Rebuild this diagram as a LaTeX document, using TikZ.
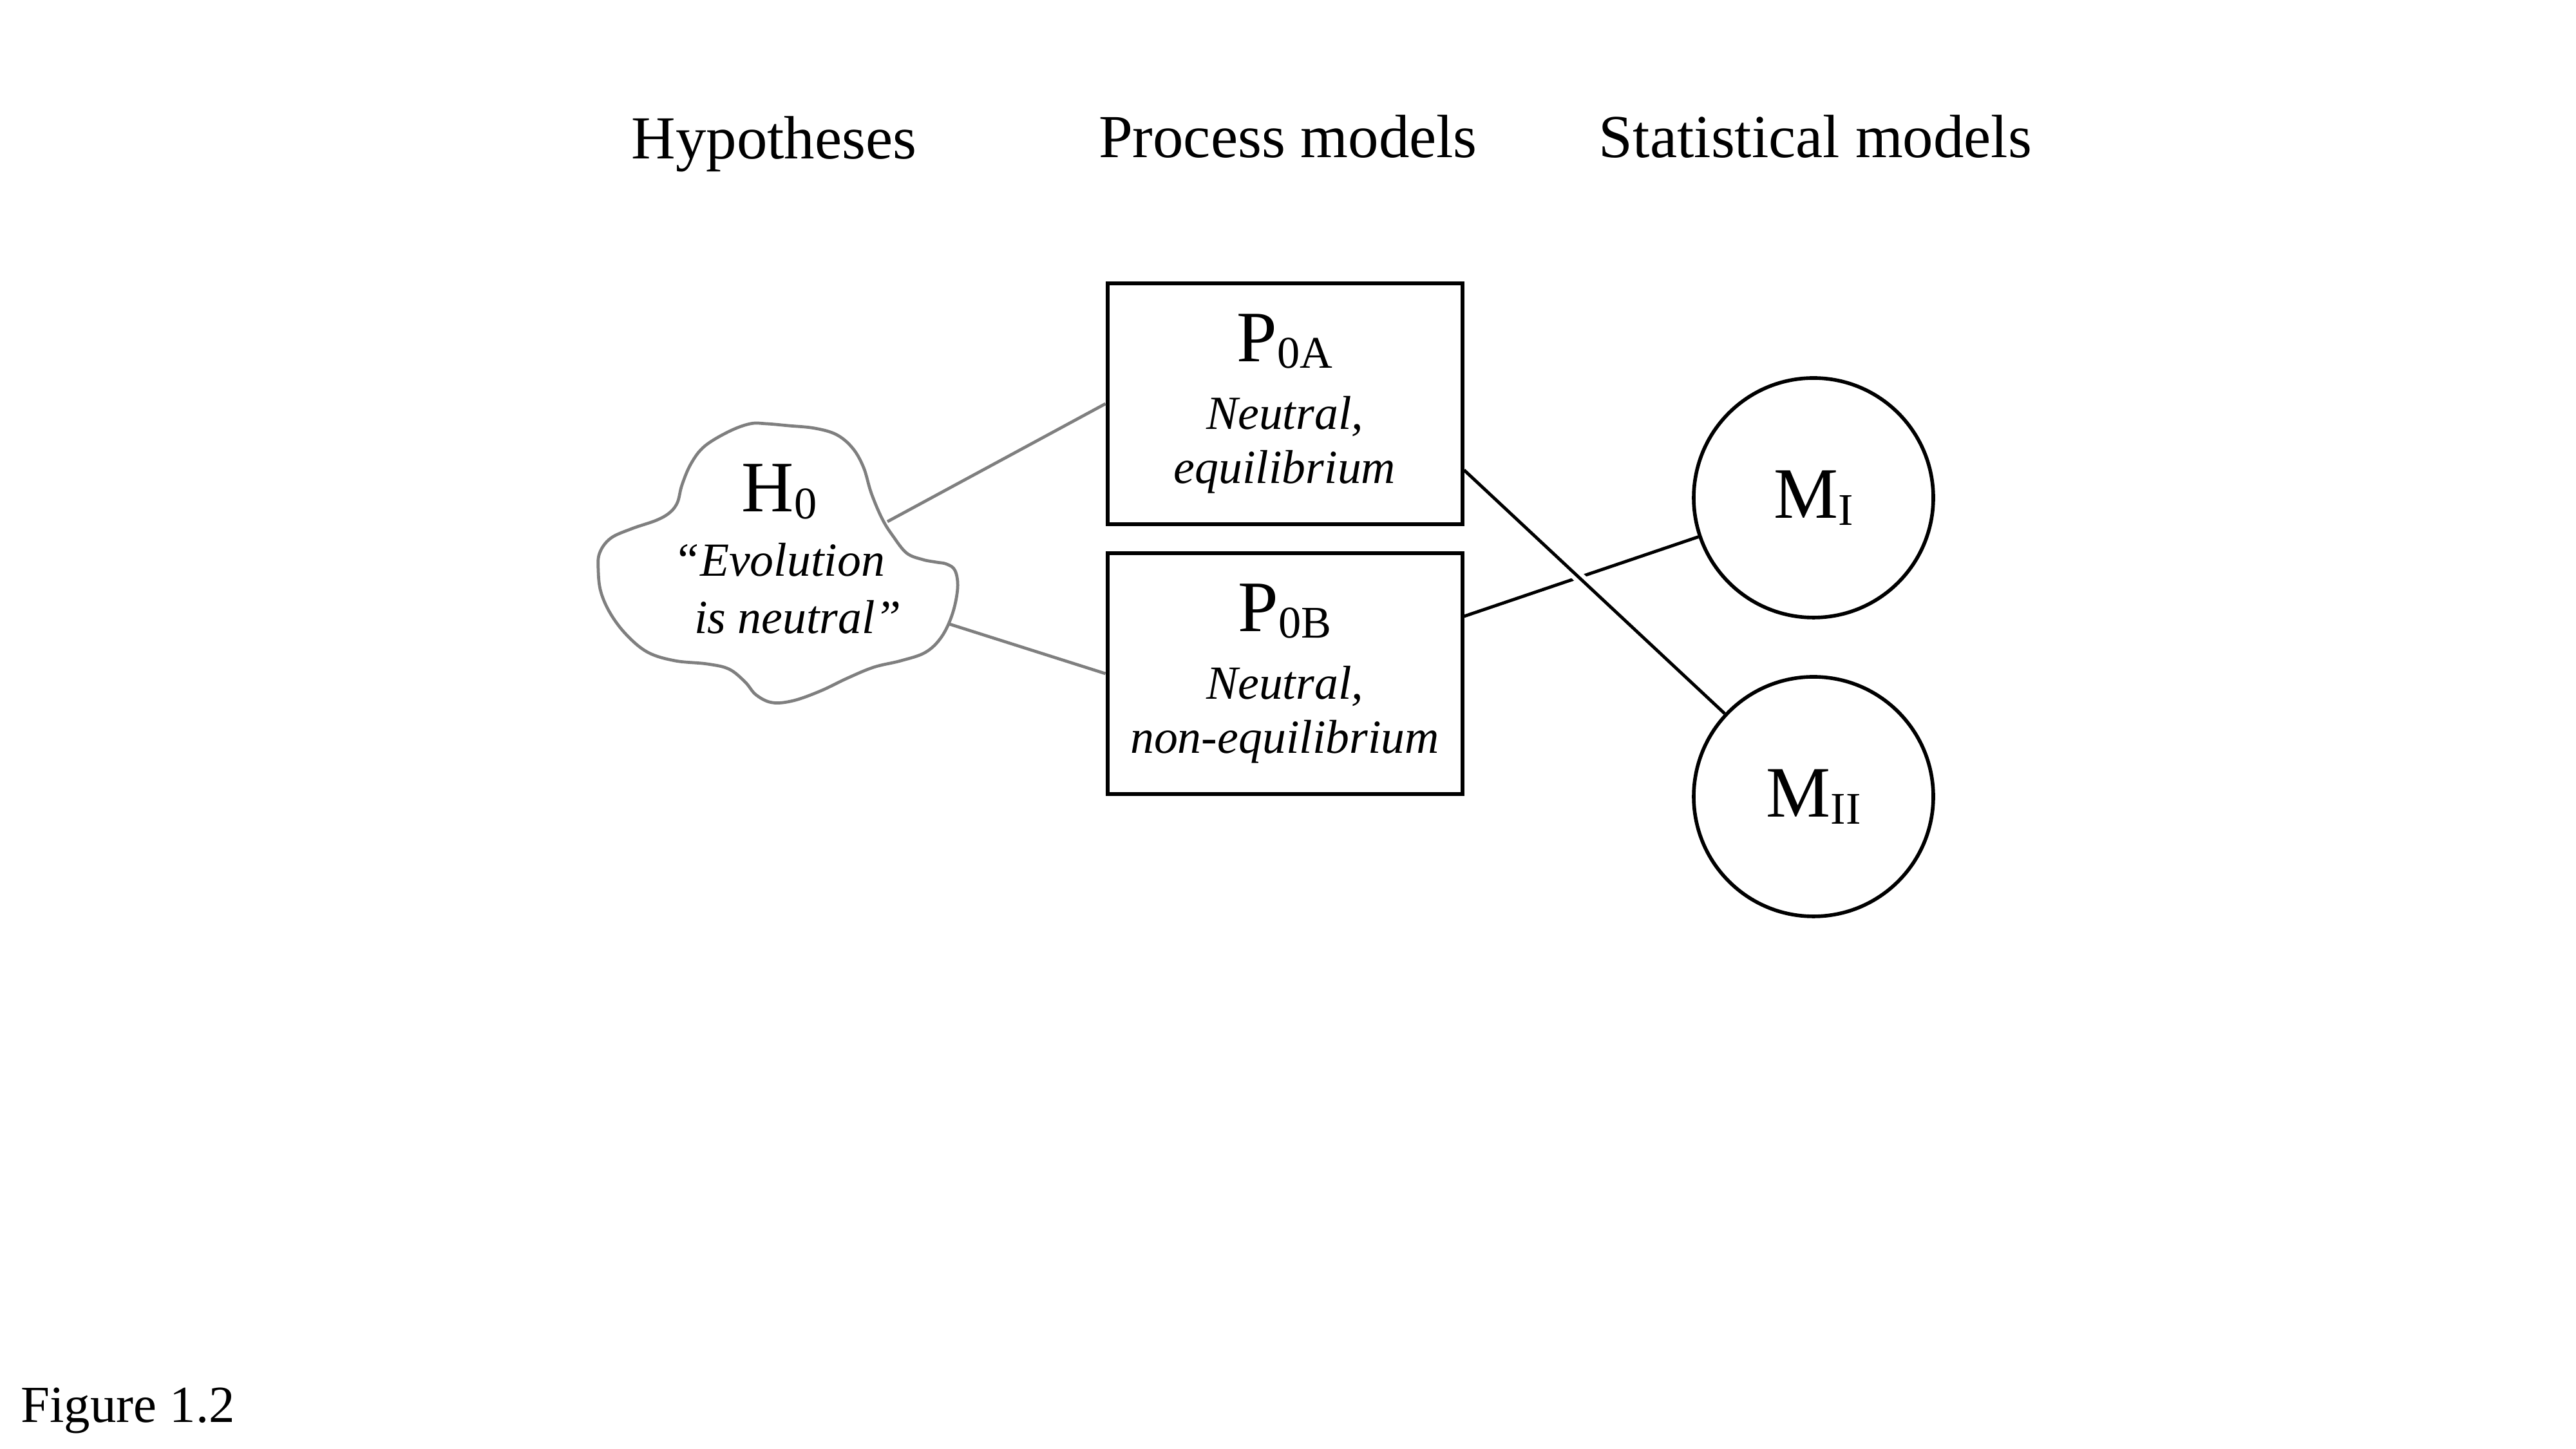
\documentclass[tikz,border=0pt]{standalone}
\usepackage{fontspec}
\setmainfont{Liberation Serif}
\usepackage{tikz}
\usetikzlibrary{positioning}

\definecolor{hypgray}{HTML}{7F7F7F}
\newcommand{\bigfont}{\fontsize{32}{36}\selectfont\upshape}
\newcommand{\modsub}[1]{\raisebox{-3pt}{\fontsize{20}{22}\selectfont #1}}

\begin{document}
\begin{tikzpicture}[
  head/.style={font=\fontsize{27}{30}\selectfont, anchor=base},
  procbox/.style={draw, line width=1.7pt, minimum width=5.51cm, minimum height=3.74cm,
    inner sep=0pt, align=center, font=\fontsize{21}{24}\selectfont\itshape},
  statcirc/.style={draw, circle, line width=1.6pt, minimum size=3.72cm, inner sep=0pt, font=\bigfont},
  hypline/.style={draw=hypgray, line width=1.35pt},
  modline/.style={draw=black, line width=1.4pt}
]
\useasboundingbox (0,0) rectangle (40,22.5);

% column titles
\node[head] (thyp) at (12.02,20.03) {Hypotheses};
\node[head] (tproc) at (20.0,20.05) {Process models};
\node[head] (tstat) at (28.19,20.05) {Statistical models};

% hypothesis cloud
\draw[hypgray, line width=1.35pt] plot[smooth cycle, tension=0.6] coordinates {
  (11.65,15.92) (11.32,15.80) (10.94,15.57) (10.73,15.30) (10.59,14.97)
  (10.52,14.70) (10.40,14.54) (10.19,14.42) (9.81,14.29) (9.48,14.14)
  (9.31,13.91) (9.29,13.64) (9.33,13.31) (9.48,12.97) (9.73,12.64)
  (10.06,12.37) (10.48,12.24) (10.98,12.19) (11.32,12.11) (11.57,11.91)
  (11.74,11.71) (11.99,11.59) (12.32,11.62) (12.74,11.77) (13.16,11.97)
  (13.57,12.14) (13.99,12.24) (14.37,12.37) (14.62,12.61) (14.79,12.97)
  (14.87,13.37) (14.83,13.64) (14.70,13.74) (14.54,13.77) (14.33,13.81)
  (14.08,13.91) (13.87,14.17) (13.70,14.44) (13.53,14.84) (13.41,15.24)
  (13.24,15.54) (12.99,15.75) (12.65,15.85) (12.24,15.89) (11.90,15.92)};
\node[align=center, inner sep=0pt, font=\fontsize{21}{25.3}\selectfont\itshape] (hyp) at (12.10,13.97)
  {{\bigfont H\modsub{0}}\\[3.2pt]“Evolution\\\hspace*{0.58cm}is neutral”};

% process models
\node[procbox] (pa) at (19.95,16.23) {{\bigfont P\modsub{0A}}\\[6pt]Neutral,\\equilibrium};
\node[procbox] (pb) at (19.95,12.04) {{\bigfont P\modsub{0B}}\\[6pt]Neutral,\\non-equilibrium};

% statistical models
\node[statcirc] (m1) at (28.16,14.77) {M\modsub{I}};
\node[statcirc] (m2) at (28.16,10.13) {M\modsub{II}};

% connectors
\coordinate (hypA) at (13.78,14.40);
\coordinate (hypB) at (14.74,12.81);
\coordinate (paout) at ([yshift=-1.03cm]pa.east);
\coordinate (pbout) at ([yshift=0.89cm]pb.east);
\draw[hypline] (hypA) -- (pa.west);
\draw[hypline] (hypB) -- (pb.west);
\draw[modline] (pbout) -- (m1);
\draw[modline, preaction={draw=white, line width=5pt, shorten <=1.5cm, shorten >=1.5cm}] (paout) -- (m2);

\node[anchor=base west, font=\fontsize{23}{27}\selectfont] (figlab) at (0.2,0.41) {Figure 1.2};
\end{tikzpicture}
\end{document}
